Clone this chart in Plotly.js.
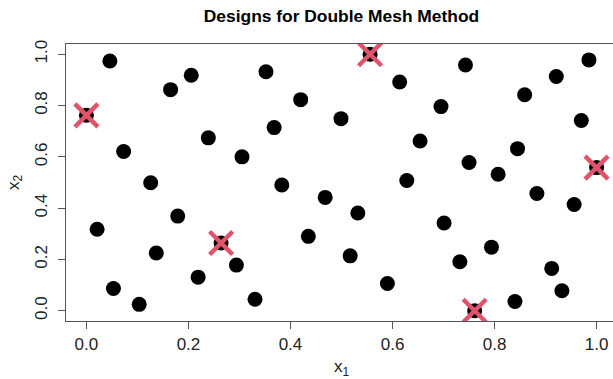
<!DOCTYPE html>
<html>
<head>
<meta charset="utf-8">
<script src="https://cdn.plot.ly/plotly-3.0.1.min.js"></script>
<style>
html,body{margin:0;padding:0;overflow:hidden;background:#fff;}
#chart{width:617px;height:379px;}
</style>
</head>
<body>
<div id="chart"></div>
<script>
// Design points (x1, x2)
const x1 = [0.046,0.2055,0.165,0.352,0.420,0.368,0.499,0.239,0.305,0.073,
            0.126,0.383,0.468,0.532,0.179,0.021,0.137,0.435,0.517,0.294,
            0.219,0.053,0.1035,0.3305,0.590,0.614,0.695,0.743,0.654,0.628,
            0.750,0.807,0.845,0.859,0.921,0.985,0.970,0.883,0.956,0.701,
            0.794,0.732,0.912,0.932,0.840,
            0.000,0.264,0.556,0.761,1.000];
const x2 = [0.974,0.918,0.862,0.932,0.823,0.714,0.749,0.674,0.600,0.621,
            0.499,0.490,0.442,0.381,0.369,0.318,0.225,0.290,0.214,0.178,
            0.131,0.087,0.025,0.045,0.106,0.892,0.796,0.958,0.662,0.508,
            0.578,0.532,0.632,0.842,0.913,0.978,0.742,0.457,0.414,0.342,
            0.248,0.191,0.165,0.078,0.036,
            0.762,0.264,1.000,0.000,0.558];
// Subset selected for the double mesh (red crosses)
const crossX1 = [0.000,0.264,0.556,0.761,1.000];
const crossX2 = [0.762,0.264,1.000,0.000,0.558];
const tickVals = [0,0.2,0.4,0.6,0.8,1.0];
const tickText = ["0.0","0.2","0.4","0.6","0.8","1.0"];

const FONT = "Liberation Sans, Arial, Helvetica, sans-serif";

const traces = [
  {x:x1, y:x2, type:'scatter', mode:'markers',
   marker:{color:'#000000', size:15, line:{width:0}}, hoverinfo:'skip'},
  {x:crossX1, y:crossX2, type:'scatter', mode:'markers',
   marker:{symbol:'x-thin', size:23, color:'#DF536B', line:{color:'#DF536B', width:4.5}}, hoverinfo:'skip'}
];

const axisCommon = {
  range:[-0.04,1.04], tickvals:tickVals, ticktext:tickText,
  showgrid:false, zeroline:false, showline:true, mirror:true,
  linecolor:'#555', linewidth:1.2, ticks:'outside', ticklen:7, tickwidth:1, tickcolor:'#555',
  tickfont:{family:FONT, size:17, color:'#222'}
};

const layout = {
  width:617, height:379,
  margin:{l:66, r:0, t:44, b:58},
  paper_bgcolor:'#fff', plot_bgcolor:'#fff',
  showlegend:false,
  title:{text:'<b>Designs for Double Mesh Method</b>', x:0.5, xref:'paper', xanchor:'center',
         y:1-16/379, yref:'container', yanchor:'middle',
         font:{family:FONT, size:17.4, color:'#000'}},
  xaxis:Object.assign({}, axisCommon, {
    title:{text:'x<sub>1</sub>', font:{family:FONT, size:17, color:'#222'}, standoff:8}
  }),
  yaxis:Object.assign({}, axisCommon, {
    tickangle:-90, ticklabelstandoff:4,
    title:{text:'x<sub>2</sub>', font:{family:FONT, size:17, color:'#222'}, standoff:8}
  })
};

Plotly.newPlot('chart', traces, layout, {displayModeBar:false, staticPlot:true});
</script>
</body>
</html>
